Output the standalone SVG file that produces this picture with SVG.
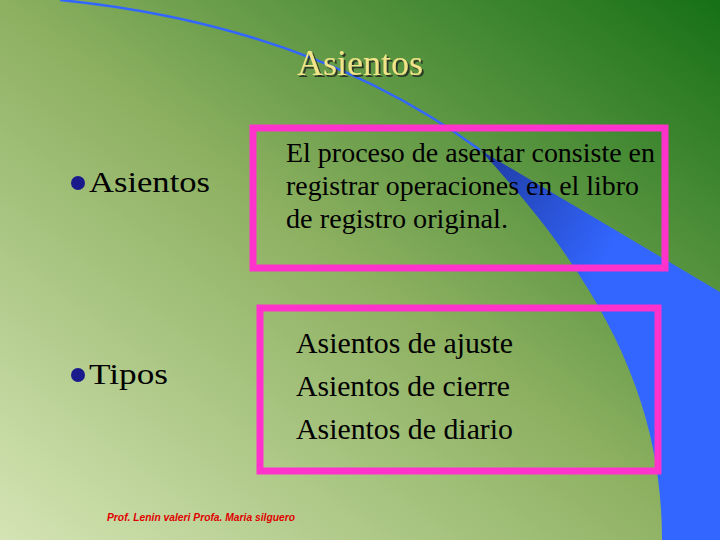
<svg xmlns="http://www.w3.org/2000/svg" width="720" height="540" viewBox="0 0 720 540">
<defs>
<linearGradient id="bg" x1="0" y1="1" x2="1" y2="0">
<stop offset="0" stop-color="#d4e4b4"/>
<stop offset="0.5" stop-color="#8cb060"/>
<stop offset="1" stop-color="#167016"/>
</linearGradient>
<linearGradient id="sw" x1="0" y1="0" x2="1" y2="1">
<stop offset="0" stop-color="#1e3aa0"/>
<stop offset="0.4" stop-color="#3366ff"/>
</linearGradient>
<filter id="sh" x="-10%" y="-20%" width="130%" height="150%">
<feDropShadow dx="2" dy="2" stdDeviation="0.5" flood-color="#222" flood-opacity="0.8"/>
</filter>
</defs>
<style>
.box{fill:none;stroke:#ff33cc;stroke-width:7}
.b{fill:#1a1a8c}
</style>
<rect width="720" height="540" fill="url(#bg)"/>
<g id="swoosh">
<path d="M60,0 Q310,25 480,150" fill="none" stroke="#3366ff" stroke-width="2.5"/>
<path d="M480,150 L720,292 L720,540 L662,540 C662,420 620,300 480,150 Z" fill="url(#sw)"/>
</g>
<g id="title">
<text x="360" y="75" text-anchor="middle" font-family="Liberation Serif, serif" font-size="36" fill="#f2e488" filter="url(#sh)">Asientos</text>
</g>
<g id="bullets" font-family="Liberation Serif, serif" fill="#000">
<circle class="b" cx="78" cy="183" r="7"/>
<text x="89" y="192" font-size="30" textLength="121" lengthAdjust="spacingAndGlyphs">Asientos</text>
<circle class="b" cx="78" cy="375" r="7"/>
<text x="89" y="384" font-size="30" textLength="79" lengthAdjust="spacingAndGlyphs">Tipos</text>
</g>
<g id="box1" font-family="Liberation Serif, serif" fill="#000">
<rect class="box" x="253" y="128" width="412" height="140"/>
<text font-size="27"><tspan x="286" y="162" textLength="369" lengthAdjust="spacingAndGlyphs">El proceso de asentar consiste en</tspan><tspan x="286" y="195" textLength="353" lengthAdjust="spacingAndGlyphs">registrar operaciones en el libro</tspan><tspan x="286" y="228" textLength="222" lengthAdjust="spacingAndGlyphs">de registro original.</tspan></text>
</g>
<g id="box2" font-family="Liberation Serif, serif" fill="#000">
<rect class="box" x="260" y="308" width="398" height="163"/>
<text font-size="30"><tspan x="296" y="353" textLength="217" lengthAdjust="spacingAndGlyphs">Asientos de ajuste</tspan><tspan x="296" y="396" textLength="214" lengthAdjust="spacingAndGlyphs">Asientos de cierre</tspan><tspan x="296" y="439" textLength="217" lengthAdjust="spacingAndGlyphs">Asientos de diario</tspan></text>
</g>
<g id="footer">
<text x="107" y="521" font-family="Liberation Sans Narrow, Liberation Sans, sans-serif" font-size="11" font-weight="bold" font-style="italic" fill="#e00000" textLength="188" lengthAdjust="spacingAndGlyphs">Prof. Lenin valeri Profa. Maria silguero</text>
</g>
</svg>
